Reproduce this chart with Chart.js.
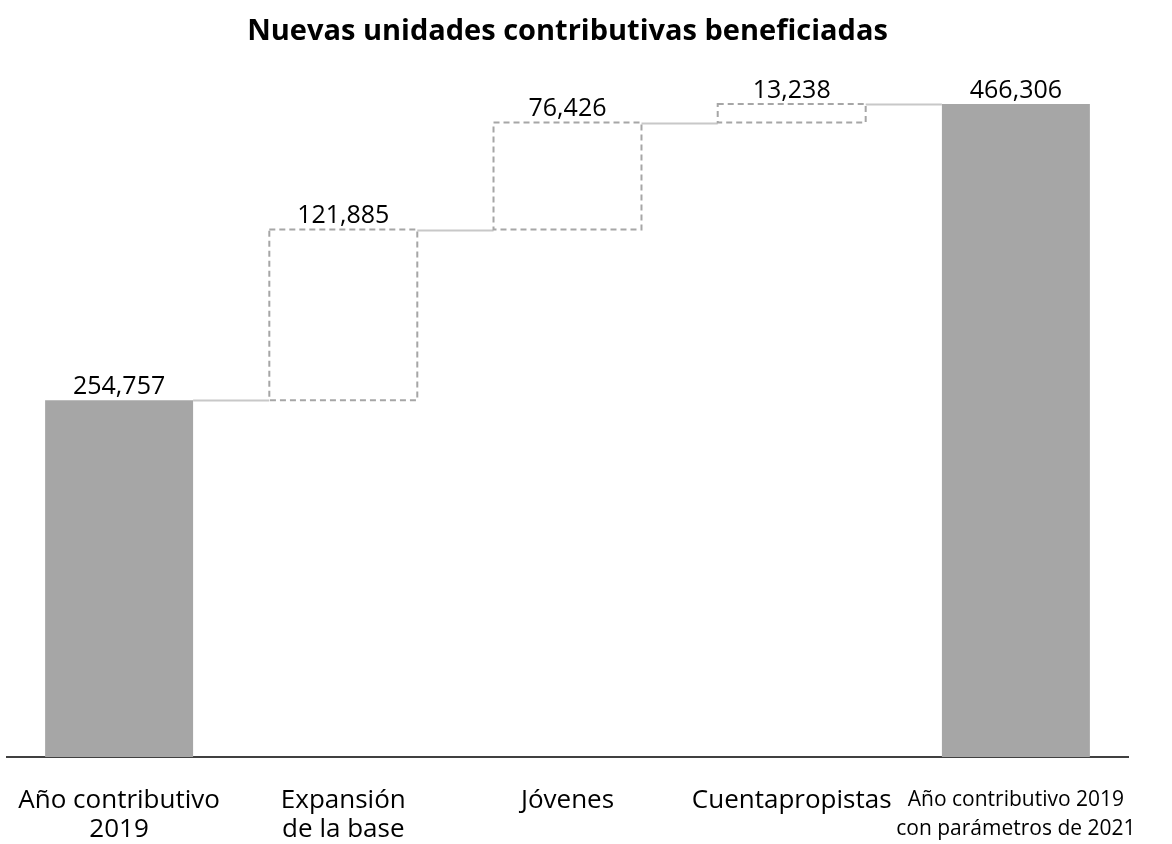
<!DOCTYPE html>
<html>
<head>
<meta charset="utf-8">
<script src="https://cdn.jsdelivr.net/npm/chart.js@4/dist/chart.umd.min.js"></script>
<style>
  html, body { margin: 0; padding: 0; background: #fff; }
  #wrap { width: 1172px; height: 844px; position: relative; }
</style>
</head>
<body>
<div id="wrap"><canvas id="graph"></canvas></div>
<script>
const categories = [
    ["Año contributivo", "2019"],
    ["Expansión", "de la base"],
    "Jóvenes",
    "Cuentapropistas",
    ["Año contributivo 2019", "con parámetros de 2021"],
];
const totals = [254757, null, null, null, 466306];
const increments = [null, 121885, 76426, 13238, null];

const font_family = "'Open Sans', 'Noto Sans', sans-serif";

function numfmt(num) {
    return Intl.NumberFormat("en-US").format(num);
}

/* floating ranges for the waterfall */
const total_ranges = [];
const step_ranges = [];
const level_after = [];
let running = 0;
for (let i = 0; i < categories.length; i++) {
    if (totals[i] != null) {
        total_ranges.push([0, totals[i]]);
        step_ranges.push(null);
        running = totals[i];
    } else {
        total_ranges.push(null);
        step_ranges.push([running, running + increments[i]]);
        running += increments[i];
    }
    level_after.push(running);
}

const waterfallExtras = {
    id: "waterfallExtras",
    afterDatasetsDraw(chart) {
        const ctx = chart.ctx;
        const yscale = chart.scales.y;
        const bars = [];
        for (let i = 0; i < categories.length; i++) {
            const ds = totals[i] != null ? 0 : 1;
            bars.push(chart.getDatasetMeta(ds).data[i]);
        }

        /* connectors */
        ctx.save();
        ctx.strokeStyle = "#c8c8c8";
        ctx.lineWidth = 2;
        for (let i = 0; i < bars.length - 1; i++) {
            const y = Math.round(yscale.getPixelForValue(level_after[i])) + 0.5;
            ctx.beginPath();
            ctx.moveTo(bars[i].x + bars[i].width / 2, y);
            ctx.lineTo(bars[i + 1].x - bars[i + 1].width / 2, y);
            ctx.stroke();
        }
        ctx.restore();

        /* dashed boxes */
        ctx.save();
        ctx.strokeStyle = "#a6a6a6";
        ctx.lineWidth = 2;
        ctx.setLineDash([6, 4]);
        for (let i = 0; i < bars.length; i++) {
            if (increments[i] == null) continue;
            const b = bars[i];
            const top = Math.min(b.y, b.base);
            const h = Math.abs(b.base - b.y);
            ctx.strokeRect(b.x - b.width / 2, top, b.width, h);
        }
        ctx.restore();

        /* value labels */
        ctx.save();
        ctx.fillStyle = "#000";
        ctx.font = "25px " + font_family;
        ctx.textAlign = "center";
        ctx.textBaseline = "bottom";
        for (let i = 0; i < bars.length; i++) {
            const b = bars[i];
            const v = totals[i] != null ? totals[i] : increments[i];
            ctx.fillText(numfmt(v), b.x, Math.min(b.y, b.base) - 1);
        }
        ctx.restore();
    },
};

const ctx = document.getElementById("graph");
const graph = new Chart(ctx, {
    type: "bar",
    data: {
        labels: categories,
        datasets: [
            {
                label: "Total",
                data: total_ranges,
                backgroundColor: "#a6a6a6",
                borderWidth: 0,
                grouped: false,
                barPercentage: 0.66,
                categoryPercentage: 1,
            },
            {
                label: "Incremento",
                data: step_ranges,
                backgroundColor: "rgba(0,0,0,0)",
                borderWidth: 0,
                grouped: false,
                barPercentage: 0.66,
                categoryPercentage: 1,
            },
        ],
    },
    options: {
        responsive: true,
        maintainAspectRatio: false,
        animation: false,
        layout: {
            padding: { left: 7, right: 44, top: 0, bottom: 0 },
        },
        plugins: {
            legend: { display: false },
            tooltip: { enabled: false },
            title: {
                display: true,
                text: "Nuevas unidades contributivas beneficiadas",
                color: "#000",
                font: { family: font_family, size: 29, weight: "bold" },
                padding: { top: 14, bottom: 8 },
            },
        },
        scales: {
            y: {
                display: false,
                min: 0,
                max: 500000,
            },
            x: {
                grid: { display: false, drawTicks: false },
                border: { display: true, color: "#404040", width: 2 },
                afterFit: (scale) => {
                    scale.paddingLeft = 0;
                    scale.paddingRight = 0;
                    scale.height = 87;
                },
                ticks: {
                    color: "#000",
                    padding: 29,
                    maxRotation: 0,
                    autoSkip: false,
                    font: (c) =>
                        c.index === 4
                            ? { family: font_family, size: 21, lineHeight: 1.38 }
                            : { family: font_family, size: 26, lineHeight: 1.11 },
                },
            },
        },
    },
    plugins: [waterfallExtras],
});
</script>
</body>
</html>
